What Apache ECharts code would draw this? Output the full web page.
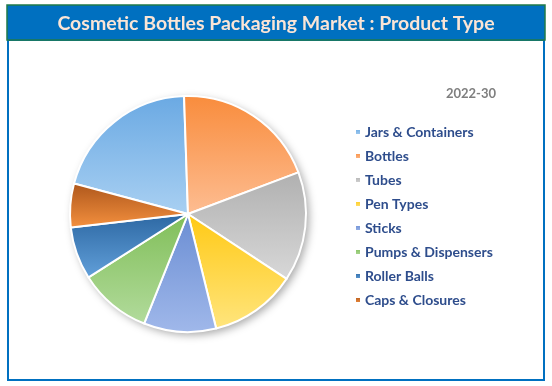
<!DOCTYPE html>
<html>
<head>
<meta charset="utf-8">
<script src="https://cdn.jsdelivr.net/npm/echarts@6/dist/echarts.min.js"></script>
<style>
html,body{margin:0;padding:0;background:#fff;}
#chart{width:552px;height:386px;}
</style>
</head>
<body>
<div id="chart"></div>
<script>
var categories = ['Jars & Containers','Bottles','Tubes','Pen Types','Sticks','Pumps & Dispensers','Roller Balls','Caps & Closures'];
var shares = [20.3, 19.8, 15.0, 11.9, 9.9, 9.9, 7.2, 6.0];
var titleText = 'Cosmetic Bottles Packaging Market : Product Type';
var periodText = '2022-30';

var topColors    = ['#6aa9e3','#f98c3c','#b0b0b0','#ffc914','#6a8dd3','#80be58','#2c67a2','#ad561b'];
var bottomColors = ['#a9d0f2','#fdbd92','#d8d8d8','#ffe57e','#a0b8ea','#b2db9c','#62a0da','#f5913f'];
var legendColors = ['#9dc3e6','#f4a57a','#c9c9c9','#ffd94a','#8faadc','#a9d18e','#4e88c7','#d9773a'];

var data = categories.map(function(c, i){
  return {
    name: c,
    value: shares[i],
    itemStyle: {
      color: new echarts.graphic.LinearGradient(0,0,0,1,[
        {offset:0,color:topColors[i]},{offset:1,color:bottomColors[i]}
      ])
    }
  };
});

var chart = echarts.init(document.getElementById('chart'));
chart.setOption({
  backgroundColor:'#ffffff',
  animation:false,
  color: legendColors,
  graphic:[
    {type:'rect', z:0, shape:{x:8,y:40,width:536,height:340}, style:{fill:'#ffffff',stroke:'#0070c0',lineWidth:2}},
    {type:'rect', z:1, shape:{x:7,y:5,width:538,height:35}, style:{fill:'#0070c0',stroke:'#1f7a4a',lineWidth:1.5}}
  ],
  title:[
    {text:titleText, left:'center', top:9, textStyle:{color:'#fbe5d6',fontFamily:'Lato',fontWeight:'bold',fontSize:19.5}, z:5},
    {text:periodText, right:51, top:82, textStyle:{color:'#7f7f7f',fontFamily:'Lato',fontWeight:'bold',fontSize:13}}
  ],
  legend:{
    orient:'vertical',
    left:349, top:119,
    icon:'rect', itemWidth:6, itemHeight:6, itemGap:8,
    data: categories,
    textStyle:{color:'#2e4d8c',fontFamily:'Lato',fontWeight:'bold',fontSize:14,lineHeight:16,padding:[0,0,0,-1]},
    selectedMode:false
  },
  series:[
    {
      type:'pie', silent:true, z:1,
      center:[188,214], radius:118,
      label:{show:false}, labelLine:{show:false},
      legendHoverLink:false,
      itemStyle:{color:'#ffffff',shadowBlur:8,shadowColor:'rgba(0,0,0,0.35)',shadowOffsetX:3,shadowOffsetY:3},
      data:[{value:1,name:'_bg'}]
    },
    {
      type:'pie', z:2,
      center:[188,214], radius:118,
      startAngle:165, clockwise:true,
      label:{show:false}, labelLine:{show:false},
      itemStyle:{borderColor:'#ffffff',borderWidth:2},
      emphasis:{disabled:true},
      data:data
    }
  ]
});
</script>
</body>
</html>
